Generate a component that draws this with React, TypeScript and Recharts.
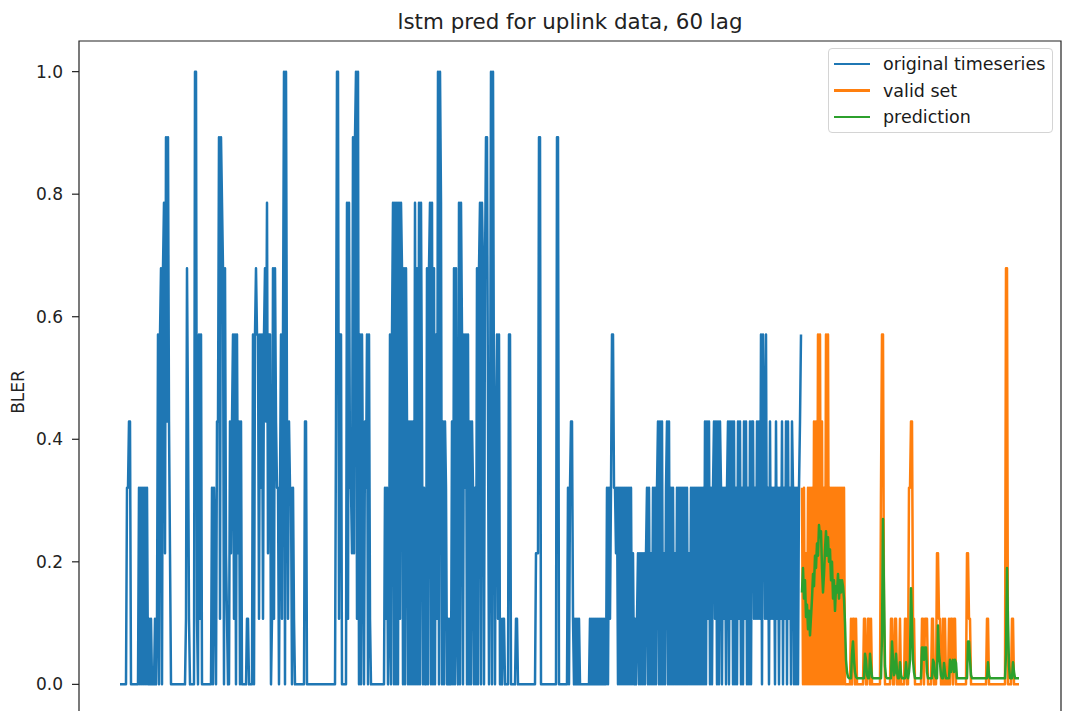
import React from 'react';
import { LineChart, Line, XAxis, YAxis, Legend, ReferenceArea } from 'recharts';

// BLER is quantised, so the series are stored as step indices into LEVELS
const LEVELS = [0, 0.107, 0.214, 0.321, 0.429, 0.571, 0.679, 0.786, 0.893, 1.0];

const originalCodes = [
  0, 0, 0, 0, 0, 0, 0,
  3, 3, 4, 4, 0,
  0, 0, 0, 0, 0, 0, 0,
  3, 0, 3, 0, 3, 0, 3, 0, 3, 0,
  1, 0, 1,
  0, 0, 0,
  1, 0, 1,
  5, 0, 5,
  6, 0, 6,
  7, 2,
  8, 4, 8,
  4, 2, 0,
  0, 0, 0, 0, 0, 0, 0, 0, 0, 0, 0, 0, 0, 0,
  1, 6, 4, 1,
  0, 0, 0, 0,
  0, 9, 9, 1,
  0,
  5, 1, 5, 0,
  0, 0, 0, 0, 0, 0, 0, 0, 0,
  3, 0, 3,
  2,
  0,
  4,
  4, 8, 1, 8, 7, 6, 0, 6,
  2, 1, 0, 0,
  4, 2, 4,
  5, 1, 5, 0, 5, 2,
  4, 0, 4,
  0, 0, 0, 0, 0,
  1, 1,
  0, 0, 0, 0,
  5, 0, 5,
  6, 5,
  5, 1, 5, 3, 5,
  1, 5, 6,
  4, 7, 2, 5,
  5, 0, 1,
  6, 1, 6, 4, 3,
  3, 0, 3,
  5, 1, 5,
  9, 0, 9,
  4, 1, 4, 3,
  3, 0, 3, 1,
  0, 0, 0, 0, 0, 0, 0, 0, 0, 0,
  4, 4, 0, 0,
  0, 0, 0, 0, 0, 0, 0, 0, 0, 0,
  0, 0, 0, 0, 0, 0, 0, 0, 0, 0,
  0, 0, 0, 0, 0, 0,
  0, 4, 9, 9, 1, 5, 5, 0,
  0, 0, 0, 0,
  7, 1, 7, 3,
  3, 2,
  8, 2, 8, 9,
  1, 9, 0,
  5, 0, 5,
  3, 0,
  4, 3,
  5, 0, 5, 1,
  0, 0, 0, 0, 0, 0, 0, 0, 0, 0, 0, 0, 0, 0,
  3, 1, 3, 0,
  1,
  5, 0, 5,
  7, 0, 7, 0, 7, 0, 7, 1, 7,
  6, 0, 6, 0, 6,
  4, 0, 4, 0, 4, 0, 4, 0,
  7, 0, 6, 0, 7, 0, 7,
  4, 0, 3,
  0, 0,
  6, 0, 6,
  7, 0, 7, 0,
  6, 0, 5, 1,
  9, 0, 9,
  7, 0,
  4, 0, 4, 3, 0,
  1, 0, 1, 0,
  4, 0,
  6, 0, 6,
  1, 0,
  7, 0, 7,
  5, 0, 5, 3, 5, 0,
  5, 0,
  4, 0, 4,
  3, 0, 3, 0,
  6, 0, 6,
  7, 0, 7,
  6, 0, 6, 8, 8,
  4, 0, 3,
  9, 0, 9,
  4, 0, 4,
  5, 1, 5, 0,
  1, 0, 1, 1,
  0, 0, 0, 0,
  5, 5, 0,
  0, 0, 0, 0,
  1, 1,
  0, 0, 0, 0, 0, 0, 0, 0, 0, 0,
  0, 0, 0, 0, 0, 0, 0,
  0, 2, 2, 2, 8, 8, 0,
  0, 0, 0, 0, 0, 0, 0, 0, 0, 0,
  0, 0, 0, 0, 0,
  8, 8,
  0, 0, 0, 0, 0, 0, 0, 0, 0,
  3, 0, 3,
  4, 4,
  1, 0, 1, 0, 1, 0, 1, 0,
  0, 0, 0, 0, 0, 0, 0, 0, 0,
  1, 0, 1, 0, 1, 0, 1, 0, 1, 0, 1, 0, 1, 0, 1, 0,
  0,
  3, 0, 3, 1,
  3, 5, 5, 3,
  3, 2,
  3, 0, 3, 0, 3, 0, 3, 0, 3, 0, 3, 0, 3, 0,
  3, 0, 2, 0, 1, 0, 1,
  2, 0, 2, 0, 2, 0, 2, 0, 2,
  3, 0, 3,
  0, 2, 0, 3, 0,
  3, 0, 3,
  4, 0, 4, 0, 4, 0,
  2, 0, 3,
  4, 0, 4, 0,
  3, 0, 3, 0,
  2, 0, 3,
  0, 3, 0, 3, 0, 3, 0, 3, 0, 3,
  0, 2, 0,
  3, 0, 3, 0, 3, 0, 3, 0, 3, 0, 3, 0, 3, 0,
  4, 0, 4, 1, 4, 0,
  3, 0, 3,
  4, 1, 4, 0, 4, 0, 4,
  3, 0, 3, 1, 3, 0, 3,
  4, 0, 4, 1, 4, 0,
  4, 0, 3, 0, 4, 1, 4, 0, 3, 0, 4, 1, 4, 0, 3, 0, 4, 0, 4,
  4, 1, 3, 1, 4, 1, 4, 1,
  5, 0, 5,
  4, 1, 5, 1,
  3, 0, 4, 1, 3, 1, 3, 0, 4, 1, 3, 0, 3, 1,
  4, 0, 3, 1, 4, 0, 4, 1, 3, 0, 4,
  3, 0, 3, 0, 3, 0, 3,
  4, 5,
];

const validCodes = [
  3, 0, 3, 0, 2, 0, 3, 0, 3, 0, 3, 0,
  4, 0, 4, 0,
  5, 0, 5, 0,
  4, 0, 3, 0,
  5, 0, 5, 0,
  3, 0, 3, 0, 3, 0, 3, 0, 3, 0, 3, 0, 3, 0, 3, 0,
  0, 0, 0, 0, 0,
  1, 0, 1, 1, 0, 1, 0,
  0, 0, 0, 0, 0, 0,
  1, 1, 0,
  0, 1,
  1, 0, 1,
  0, 0, 0, 0, 0, 0, 0, 0,
  0, 3, 5, 5, 1,
  0, 0, 0, 0, 0, 0,
  1, 1, 0, 0, 1, 1, 0,
  0, 0,
  1,
  0, 0, 0, 0,
  1, 1, 0,
  0, 3, 3, 4, 4, 1, 1, 0,
  0, 0, 0, 0, 0, 0,
  1, 1, 0, 1, 1, 1,
  0, 0, 0, 0,
  1, 1, 0, 0,
  0, 2, 2, 1, 1, 0,
  0,
  1, 0, 1, 0, 0,
  0,
  1, 0, 1, 1, 0, 1, 1, 0,
  0, 0, 0, 0, 0, 0, 0, 0, 0, 0,
  2, 2, 1, 1, 0, 0,
  0, 0, 0, 0, 0, 0, 0, 0, 0, 0, 0, 0, 0, 0,
  1, 1, 0,
  0, 0, 0, 0, 0, 0, 0, 0, 0, 0, 0, 0, 0, 0, 0, 0,
  6, 6, 0,
  0, 0, 0,
  1, 1, 0,
  0, 0, 0, 0, 0,
];

const predictionValues = [
  0.15, 0.19, 0.14, 0.17, 0.11, 0.13, 0.09, 0.12, 0.08, 0.11,
  0.14, 0.18, 0.16, 0.21, 0.19, 0.23, 0.21, 0.26, 0.24, 0.25,
  0.19, 0.15, 0.18, 0.22, 0.25, 0.21, 0.24, 0.2, 0.22, 0.17,
  0.2, 0.14, 0.17, 0.12, 0.16, 0.15, 0.18, 0.14, 0.17, 0.15,
  0.17, 0.16, 0.14, 0.1, 0.04, 0.02,
  0.012, 0.01, 0.01, 0.01,
  0.05, 0.07, 0.04, 0.02,
  0.012, 0.01, 0.01, 0.01, 0.01, 0.01, 0.01, 0.01, 0.01,
  0.05, 0.04, 0.015,
  0.01, 0.01,
  0.05, 0.03, 0.012,
  0.01, 0.01, 0.01, 0.01, 0.01, 0.01, 0.01, 0.01, 0.01,
  0.08, 0.27, 0.15, 0.03,
  0.012, 0.01, 0.01, 0.01, 0.01, 0.01,
  0.07, 0.04, 0.015,
  0.02, 0.05, 0.02,
  0.01, 0.01, 0.036,
  0.015, 0.01, 0.01, 0.01, 0.01,
  0.036, 0.015,
  0.01, 0.02, 0.04,
  0.157, 0.1, 0.04, 0.02,
  0.01, 0.01, 0.01, 0.01, 0.01, 0.01, 0.01,
  0.06, 0.06, 0.04, 0.06, 0.06, 0.02,
  0.01, 0.01, 0.01, 0.01, 0.01,
  0.04, 0.035, 0.015,
  0.01, 0.01,
  0.096, 0.05, 0.035, 0.015,
  0.01, 0.01,
  0.035, 0.02, 0.01,
  0.01, 0.01, 0.01,
  0.04, 0.02, 0.035, 0.04, 0.02, 0.04, 0.035,
  0.01, 0.01, 0.01, 0.01, 0.01, 0.01, 0.01, 0.01, 0.01, 0.01, 0.01,
  0.07, 0.07, 0.04, 0.015,
  0.01, 0.01, 0.01, 0.01, 0.01, 0.01, 0.01, 0.01,
  0.01, 0.01, 0.01, 0.01, 0.01, 0.01, 0.01, 0.01,
  0.036, 0.015,
  0.01, 0.01, 0.01, 0.01, 0.01, 0.01, 0.01, 0.01,
  0.01, 0.01, 0.01, 0.01, 0.01, 0.01, 0.01, 0.01,
  0.05, 0.19, 0.1,
  0.03, 0.01, 0.01, 0.01,
  0.036, 0.02,
  0.01, 0.01, 0.01, 0.01, 0.01,
];

const yTicks = [0, 0.2, 0.4, 0.6, 0.8, 1.0];

const series = [
  { key: 'original', name: 'original timeseries', color: '#1f77b4' },
  { key: 'valid', name: 'valid set', color: '#ff7f0e' },
  { key: 'prediction', name: 'prediction', color: '#2ca02c' },
];

type Row = { i: number; original: number | null; valid: number | null; prediction: number | null };

const trainLen = originalCodes.length;
const data: Row[] = [
  ...originalCodes.map((c, i) => ({ i, original: LEVELS[c], valid: null, prediction: null })),
  ...validCodes.map((c, k) => ({
    i: trainLen + k,
    original: null,
    valid: LEVELS[c],
    prediction: predictionValues[k] ?? null,
  })),
];

const FONT = '"DejaVu Sans", Verdana, sans-serif';
const INK = '#222';

const LegendBox = () => (
  <div
    style={{
      position: 'relative',
      width: 225,
      height: 85,
      boxSizing: 'border-box',
      border: '1px solid #d4d4d4',
      borderRadius: 4,
      background: 'rgba(255,255,255,0.8)',
      fontFamily: FONT,
      fontSize: 17.5,
      color: '#1a1a1a',
    }}
  >
    {series.map((s, k) => (
      <div
        key={s.key}
        style={{
          position: 'absolute',
          left: 5,
          top: 4 + k * 26.5,
          height: 22,
          display: 'flex',
          alignItems: 'center',
          whiteSpace: 'nowrap',
        }}
      >
        <span style={{ display: 'inline-block', width: 36, height: 2.5, background: s.color }} />
        <span style={{ marginLeft: 13 }}>{s.name}</span>
      </div>
    ))}
  </div>
);

export default function App() {
  return (
    <div
      style={{
        position: 'absolute',
        left: 0,
        top: 0,
        width: 1065,
        height: 711,
        overflow: 'hidden',
        background: '#fff',
        fontFamily: FONT,
      }}
    >
      <LineChart width={1065} height={740} data={data} margin={{ top: 41, right: 4, bottom: 25, left: 19 }}>
        <XAxis dataKey="i" type="number" domain={[-41, 941]} allowDataOverflow hide />
        <YAxis
          type="number"
          domain={[-0.05, 1.05]}
          ticks={yTicks}
          allowDataOverflow
          width={60}
          axisLine={false}
          tickSize={7}
          tickMargin={9}
          tickLine={{ stroke: INK, strokeWidth: 1.2 }}
          tick={{ fill: INK, fontSize: 17, fontFamily: FONT }}
          tickFormatter={(v: number) => v.toFixed(1)}
        />
        <ReferenceArea x1={-41} x2={941} y1={-0.05} y2={1.05} fill="none" stroke={INK} strokeWidth={1.2} />
        {series.map((s) => (
          <Line
            key={s.key}
            dataKey={s.key}
            name={s.name}
            stroke={s.color}
            strokeWidth={2.5}
            strokeLinejoin="round"
            dot={false}
            activeDot={false}
            type="linear"
            connectNulls={false}
            isAnimationActive={false}
          />
        ))}
        <Legend
          layout="vertical"
          align="center"
          verticalAlign="middle"
          wrapperStyle={{ left: 828, top: 48, width: 225, height: 85 }}
          content={() => <LegendBox />}
        />
      </LineChart>
      <svg
        width={1065}
        height={711}
        style={{ position: 'absolute', left: 0, top: 0, pointerEvents: 'none' }}
      >
        <text x={570} y={29} textAnchor="middle" fontSize={21.4} fill={INK} fontFamily={FONT}>
          lstm pred for uplink data, 60 lag
        </text>
        <text
          transform="translate(24,392) rotate(-90)"
          textAnchor="middle"
          fontSize={17}
          fill={INK}
          fontFamily={FONT}
        >
          BLER
        </text>
      </svg>
    </div>
  );
}
